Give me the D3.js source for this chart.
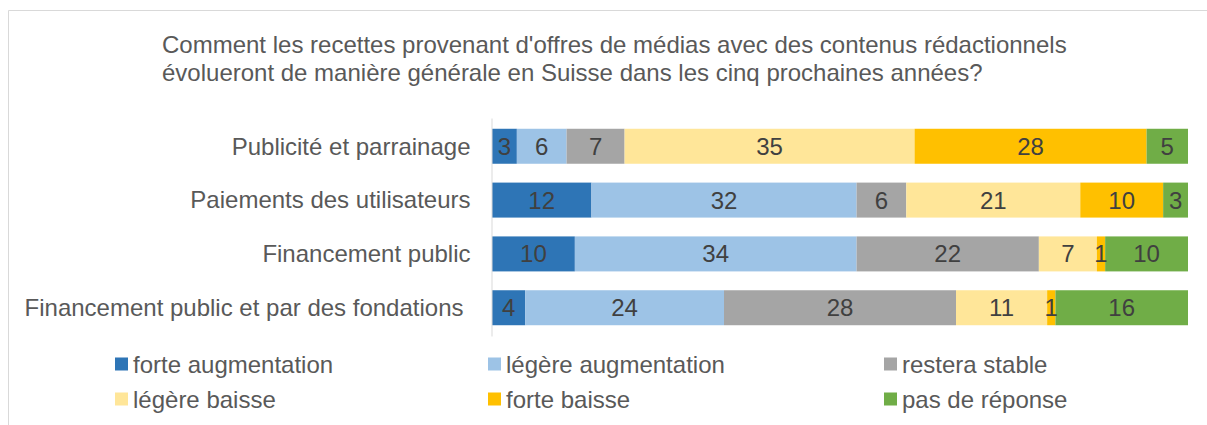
<!DOCTYPE html>
<html>
<head>
<meta charset="utf-8">
<script src="https://cdn.jsdelivr.net/npm/d3@7"></script>
<style>
  body { margin: 0; background: #fff; }
  svg { font-family: "Liberation Sans", Arial, sans-serif; }
</style>
</head>
<body>
<svg id="chart" width="1207" height="425"></svg>
<script>
const titleLines = [
  "Comment les recettes provenant d'offres de médias avec des contenus rédactionnels",
  "évolueront de manière générale en Suisse dans les cinq prochaines années?"
];
const categories = [
  "Publicité et parrainage",
  "Paiements des utilisateurs",
  "Financement public",
  "Financement public et par des fondations"
];
const seriesNames = [
  "forte augmentation", "légère augmentation", "restera stable",
  "légère baisse", "forte baisse", "pas de réponse"
];
const forteAugmentation = [3, 12, 10, 4];
const legereAugmentation = [6, 32, 34, 24];
const resteraStable = [7, 6, 22, 28];
const legereBaisse = [35, 21, 7, 11];
const forteBaisse = [28, 10, 1, 1];
const pasDeReponse = [5, 3, 10, 16];
const seriesValues = [forteAugmentation, legereAugmentation, resteraStable, legereBaisse, forteBaisse, pasDeReponse];
const colors = ['#2E75B6', '#9DC3E6', '#A5A5A5', '#FFE699', '#FFC000', '#70AD47'];

const svg = d3.select('#chart');

// frame
svg.append('line').attr('x1', 8.5).attr('x2', 1207).attr('y1', 10.5).attr('y2', 10.5)
  .attr('stroke', '#d9d9d9').attr('stroke-width', 1);
svg.append('line').attr('x1', 8.5).attr('x2', 8.5).attr('y1', 10.5).attr('y2', 425)
  .attr('stroke', '#d9d9d9').attr('stroke-width', 1);

// title
svg.append('g').selectAll('text')
  .data(titleLines)
  .enter()
  .append('text')
  .attr('x', 162)
  .attr('y', (d, i) => 53 + i * 28)
  .attr('fill', '#595959')
  .attr('font-size', '24px')
  .text(d => d);

const total = d3.max(categories.map((c, i) => d3.sum(seriesValues, s => s[i])));
const x = d3.scaleLinear().domain([0, total]).range([492, 1188]);
const y = d3.scaleBand().domain(categories).range([118, 336]).paddingInner(0.35).paddingOuter(0.2);

const rows = categories.map((c, i) => {
  let acc = 0;
  return seriesValues.map((s, k) => {
    const seg = { cat: c, k, v: s[i], x0: acc, x1: acc + s[i] };
    acc += s[i];
    return seg;
  });
}).flat();

const bars = svg.append('g');
bars.selectAll('rect')
  .data(rows)
  .enter()
  .append('rect')
  .attr('x', d => x(d.x0))
  .attr('y', d => y(d.cat))
  .attr('width', d => x(d.x1) - x(d.x0))
  .attr('height', y.bandwidth())
  .attr('fill', d => colors[d.k]);

bars.selectAll('text')
  .data(rows)
  .enter()
  .append('text')
  .attr('x', d => (x(d.x0) + x(d.x1)) / 2)
  .attr('y', d => y(d.cat) + y.bandwidth() / 2 + 8.5)
  .attr('text-anchor', 'middle')
  .attr('fill', '#404040')
  .attr('font-size', '24px')
  .text(d => d.v);

// category axis
const axis = svg.append('g').attr('transform', 'translate(491.5,0)')
  .call(d3.axisLeft(y).tickSize(0).tickPadding(21));
axis.select('.domain').attr('stroke', '#d9d9d9');
axis.selectAll('text')
  .attr('font-size', '24px')
  .attr('font-family', '"Liberation Sans", Arial, sans-serif')
  .attr('fill', '#595959');
axis.selectAll('.tick text').attr('dy', '0.35em')
  .attr('dx', (d, i) => i === categories.length - 1 ? -7 : 0);

// legend
const legendX = [115, 488, 884];
const legendY = [364, 399];
const legend = svg.append('g').selectAll('g')
  .data(seriesNames)
  .enter()
  .append('g')
  .attr('transform', (d, i) => `translate(${legendX[i % 3]},${legendY[Math.floor(i / 3)]})`);
legend.append('rect')
  .attr('x', 0).attr('y', -6.5).attr('width', 13).attr('height', 13)
  .attr('fill', (d, i) => colors[i]);
legend.append('text')
  .attr('x', 18).attr('y', 8.5)
  .attr('fill', '#595959')
  .attr('font-size', '24px')
  .text(d => d);
</script>
</body>
</html>
